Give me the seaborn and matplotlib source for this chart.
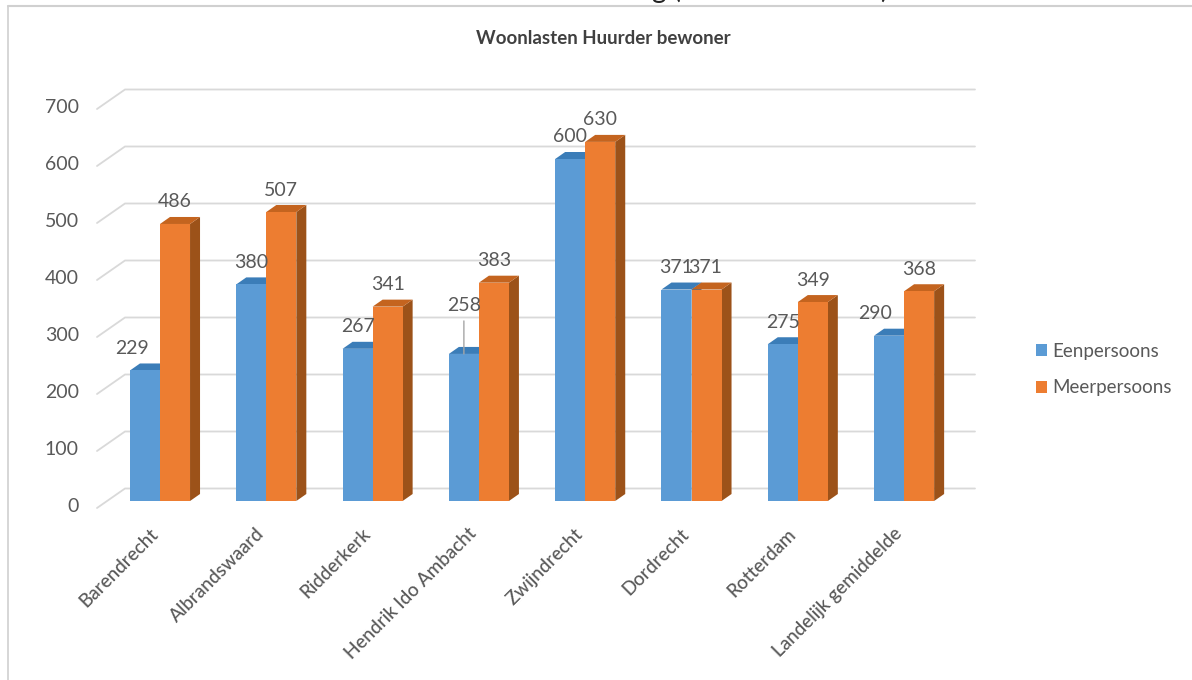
import matplotlib
matplotlib.use("Agg")
import matplotlib.pyplot as plt
from matplotlib.lines import Line2D
from matplotlib.patches import Polygon, Patch
from matplotlib.transforms import ScaledTranslation
import pandas as pd
import seaborn as sns

categories = ["Barendrecht", "Albrandswaard", "Ridderkerk", "Hendrik Ido Ambacht",
              "Zwijndrecht", "Dordrecht", "Rotterdam", "Landelijk gemiddelde"]
eenpersoons = [229, 380, 267, 258, 600, 371, 275, 290]
meerpersoons = [486, 507, 341, 383, 630, 371, 349, 368]
series_names = ["Eenpersoons", "Meerpersoons"]
y_ticks = [0, 100, 200, 300, 400, 500, 600, 700]
title = "Woonlasten Huurder bewoner"

W, H = 1192, 680
PX_CAT, PX_VAL = 106.3, 0.57
X0_PX, Y0_PX = 160, 501
AX_L, AX_R, AX_T, AX_B = 90, 985, 70, 515
TEXT = "#595959"
GRID = "#D9D9D9"

sns.set_theme(style="white")
plt.rcParams["font.family"] = ["Lato", "DejaVu Sans"]

fig = plt.figure(figsize=(W / 100, H / 100), dpi=100, facecolor="white")
ax = fig.add_axes([AX_L / W, 1 - AX_B / H, (AX_R - AX_L) / W, (AX_B - AX_T) / H])

df = pd.DataFrame({
    "category": categories * 2,
    "value": eenpersoons + meerpersoons,
    "series": [series_names[0]] * len(categories) + [series_names[1]] * len(categories),
})
palette = {series_names[0]: "#5B9BD5", series_names[1]: "#ED7D31"}
sns.barplot(data=df, x="category", y="value", hue="series", order=categories,
            hue_order=series_names, palette=palette, width=0.565, gap=0, saturation=1,
            dodge=True, legend=False, ax=ax, linewidth=0)

ax.set_xlim((AX_L - X0_PX) / PX_CAT, (AX_R - X0_PX) / PX_CAT)
ax.set_ylim((Y0_PX - AX_B) / PX_VAL, (Y0_PX - AX_T) / PX_VAL)
ax.set_xlabel("")
ax.set_ylabel("")
sns.despine(ax=ax, left=True, bottom=True, top=True, right=True)
ax.patch.set_alpha(0)

# Back wall gridlines and the diagonal floor/wall ticks
back_dy = 12.5 / PX_VAL
front_dy = -7 / PX_VAL
grid_x0 = (125 - X0_PX) / PX_CAT
grid_x1 = (975 - X0_PX) / PX_CAT
diag_x0 = (97 - X0_PX) / PX_CAT
for v in y_ticks:
    ax.plot([diag_x0, grid_x0, grid_x1], [v + front_dy, v + back_dy, v + back_dy],
            color=GRID, lw=1.3, zorder=1, solid_joinstyle="miter")

# 3D sides and tops from each bar's own geometry
side_colors = {0: ("#2F6FA8", "#3B7DB8"), 1: ("#9C5219", "#C4641F")}
dx = 10 / PX_CAT
dy = 7 / PX_VAL
for s, container in enumerate(ax.containers):
    for bar in container:
        x, w, h = bar.get_x(), bar.get_width(), bar.get_height()
        side_c, top_c = side_colors[s]
        ax.add_patch(Polygon([(x + w, 0), (x + w + dx, dy), (x + w + dx, h + dy), (x + w, h)],
                             closed=True, fc=side_c, lw=0, zorder=2 + 2 * s))
        ax.add_patch(Polygon([(x, h), (x + dx, h + dy), (x + w + dx, h + dy), (x + w, h)],
                             closed=True, fc=top_c, lw=0, zorder=2 + 2 * s))
        bar.set_zorder(3 + 2 * s)

# Data labels
nudges = {(0, 0): (-13, 0), (0, 7): (-14, 0), (0, 5): (0, 0), (1, 5): (-1, 0), (0, 3): (0, 26)}
for s, container in enumerate(ax.containers):
    for i, bar in enumerate(container):
        h = bar.get_height()
        cx = bar.get_x() + bar.get_width() / 2
        nx, ny = nudges.get((s, i), (0, 0))
        ax.annotate(f"{int(h)}", (cx, h), xytext=(nx, 22 + ny), textcoords="offset pixels",
                    ha="center", va="center", fontsize=14, color=TEXT, zorder=10)
        if (s, i) == (0, 3):
            ax.annotate("", (cx, h), xytext=(0, 33), textcoords="offset pixels",
                        arrowprops=dict(arrowstyle="-", color="#A6A6A6", lw=1, shrinkA=0, shrinkB=0),
                        zorder=9)

# Axis labels
ax.set_yticks(y_ticks)
ax.set_yticklabels([str(v) for v in y_ticks])
ax.tick_params(axis="y", length=0, pad=8, labelsize=14, labelcolor=TEXT)
offset = ScaledTranslation(0, -4 / 100, fig.dpi_scale_trans)
for lab in ax.get_yticklabels():
    lab.set_transform(lab.get_transform() + offset)

ax.set_xticks(range(len(categories)))
ax.set_xticklabels(categories, rotation=45, ha="right", va="center",
                   rotation_mode="anchor", fontsize=13.6, fontweight="medium", color=TEXT)
ax.tick_params(axis="x", length=0, pad=11.5)
shift = ScaledTranslation(-5 / 100, 0, fig.dpi_scale_trans)
for lab in ax.get_xticklabels():
    lab.set_transform(lab.get_transform() + shift)

# Title and legend
fig.text(603.5 / W, 1 - 38 / H, title, ha="center", va="center", fontsize=13.5,
         fontweight="bold", color="#404040")
handles = [Patch(fc=palette[n], lw=0) for n in series_names]
fig.legend(handles, series_names, loc="center left", bbox_to_anchor=(1036 / W, 1 - 369.5 / H),
           frameon=False, fontsize=13.5, labelcolor=TEXT, handlelength=0.6, handleheight=0.6,
           handletextpad=0.27, labelspacing=1.05, borderpad=0, borderaxespad=0)

# Chart frame and the cropped line of text above it
fig.add_artist(Line2D([8 / W, 8 / W], [0, 1 - 6 / H], color="#D0D0D0", lw=1.2))
fig.add_artist(Line2D([8 / W, 1], [1 - 6 / H, 1 - 6 / H], color="#D0D0D0", lw=1.5))
fig.text(652 / W, 1 + 11 / H, "g (", ha="left", va="center", fontsize=20, color="#222222")
fig.text(880 / W, 1 + 11 / H, ")", ha="left", va="center", fontsize=20, color="#222222")

fig.savefig("out.png", dpi=100, facecolor="white")
